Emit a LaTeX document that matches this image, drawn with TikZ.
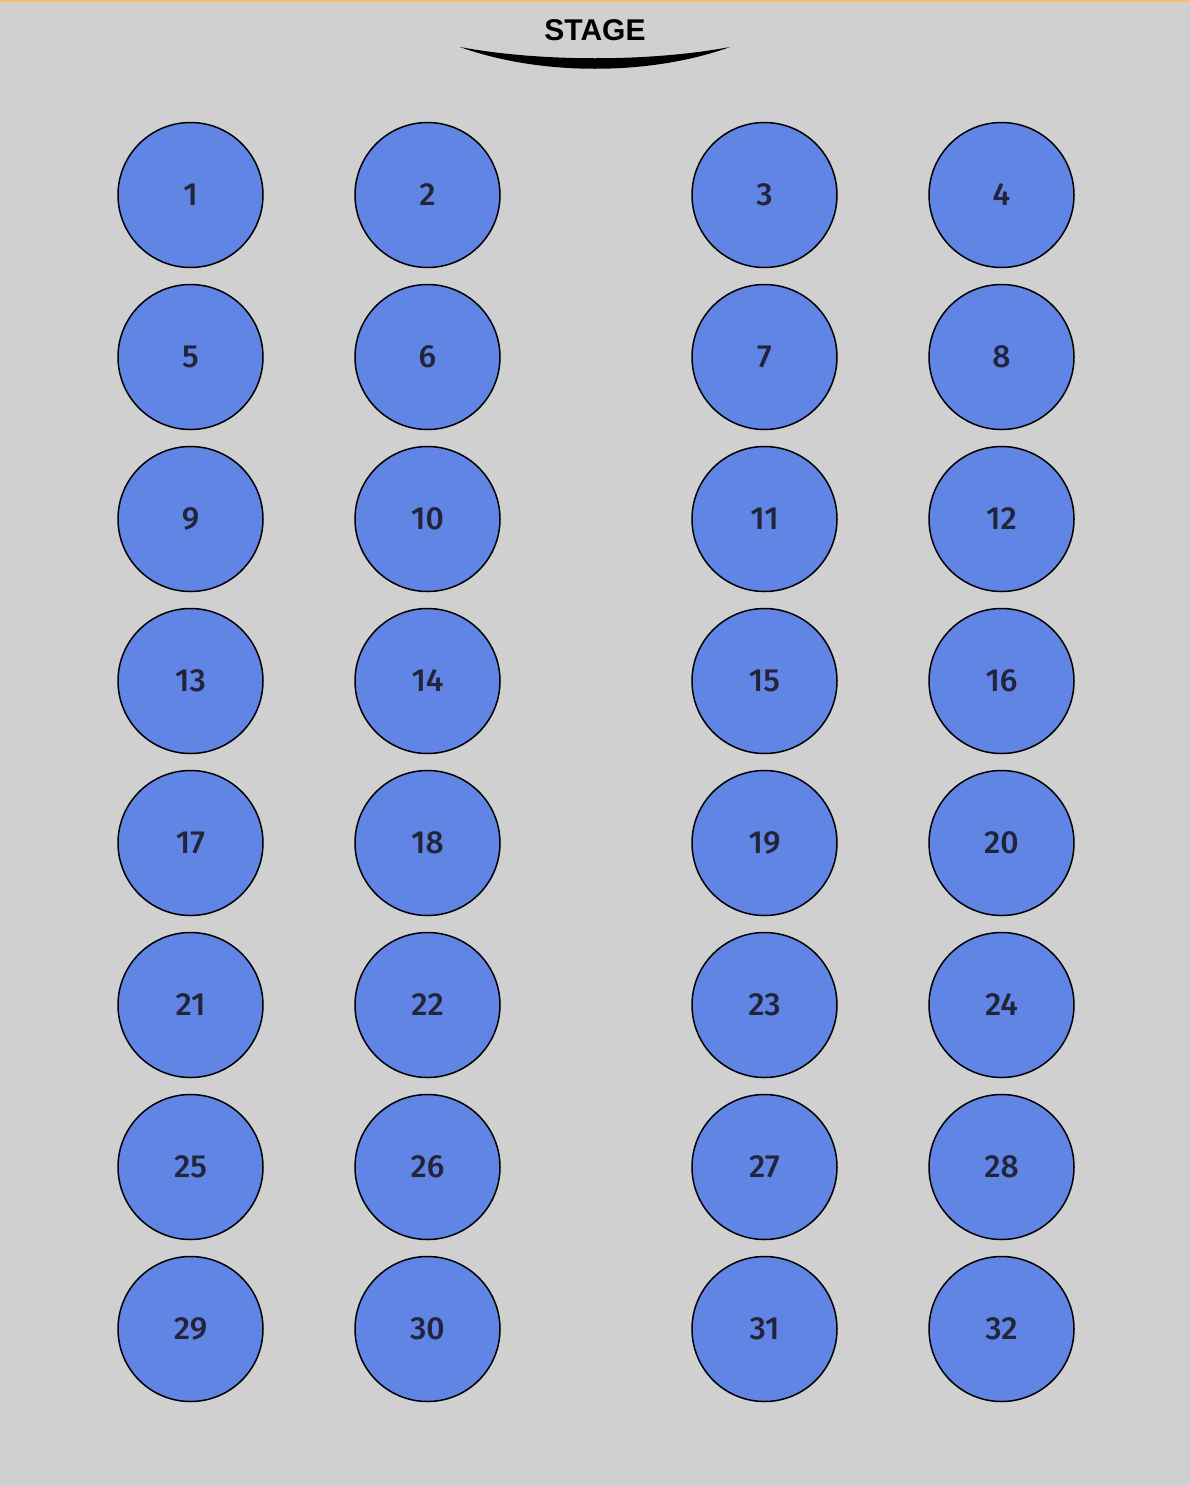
\documentclass[tikz,border=0pt]{standalone}
\usepackage{fontspec}
\setmainfont{Liberation Sans}
\newfontfamily\numfont{Fira Sans}[UprightFont={* Medium}]
\definecolor{bgc}{HTML}{D0D0D0}
\definecolor{seatc}{HTML}{6185E5}
\definecolor{numc}{HTML}{22243A}
\definecolor{topc}{HTML}{F5C067}
\begin{document}
\begin{tikzpicture}[x=1pt,y=-1pt,
  seat/.style={circle,draw=black,line width=1.5pt,fill=seatc,minimum size=145pt,inner sep=0pt,
    font=\numfont\fontsize{32}{32}\selectfont,text=numc},
  stagelabel/.style={font=\bfseries\fontsize{30}{30}\selectfont,text=black}]
\fill[bgc] (0,0) rectangle (1190,1486);
\useasboundingbox (0,0) rectangle (1190,1486);
\fill[topc] (0,0) rectangle (1190,2);
\node[stagelabel] (stage) at (595,30) {STAGE};
\fill[black] (460,47) .. controls (540,62) and (650,62) .. (730,47)
  .. controls (650,76) and (540,76) .. (460,47) -- cycle;
\foreach \row [count=\r from 0] in {0,...,7}{
  \foreach \xx [count=\c from 1] in {190.5,427.5,764.5,1001.5}{
    \pgfmathtruncatemacro{\n}{\r*4+\c}
    \node[seat] (s\n) at (\xx,195+162*\r) {\n};
  }
}
\end{tikzpicture}
\end{document}
